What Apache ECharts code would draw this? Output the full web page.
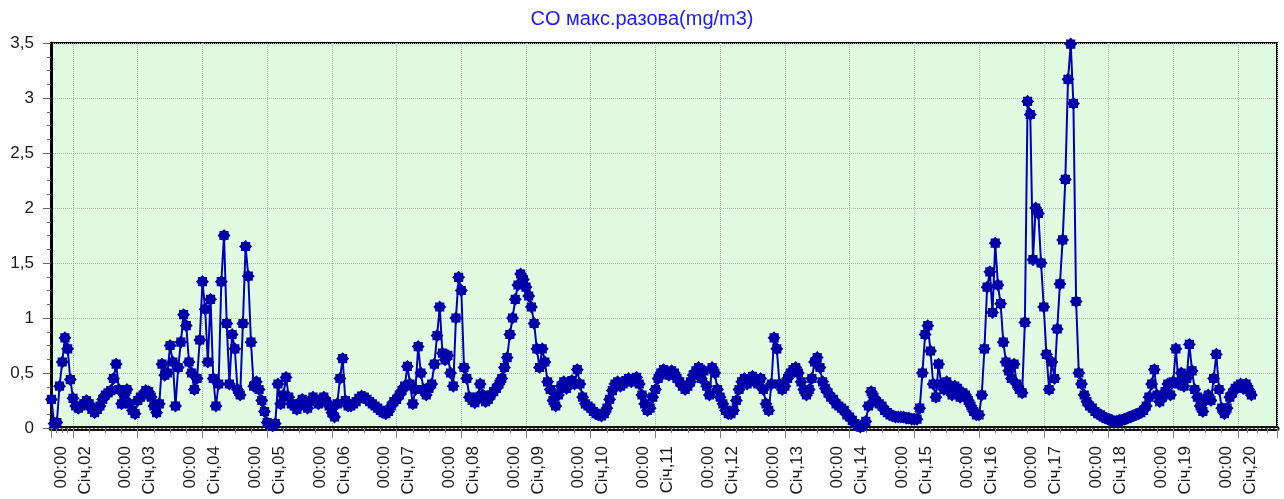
<!DOCTYPE html>
<html>
<head>
<meta charset="utf-8">
<title>CO макс.разова</title>
<script src="https://cdn.jsdelivr.net/npm/echarts@6/dist/echarts.min.js"></script>
<style>
  html, body { margin: 0; padding: 0; background: #fff; }
  #chart { width: 1284px; height: 499px; }
</style>
</head>
<body>
<div id="chart"></div>
<script>
const chartTitle = 'CO макс.разова(mg/m3)'
const monthLabel = 'Січ'
const timeLabel = '00:00'
const year = 2024

// hourly values, mg/m3 (jan01 starts at 16:00, all others at 00:00)
const jan01 = [0.26, 0.04, 0.05, 0.38, 0.6, 0.82, 0.72, 0.44]
const jan02 = [0.27, 0.2, 0.18, 0.2, 0.22, 0.25, 0.22, 0.17, 0.14, 0.17, 0.2, 0.26, 0.3, 0.32, 0.34, 0.45, 0.58, 0.35, 0.22, 0.3, 0.35, 0.22, 0.16, 0.13]
const jan03 = [0.25, 0.28, 0.3, 0.34, 0.33, 0.28, 0.2, 0.14, 0.22, 0.58, 0.48, 0.5, 0.75, 0.6, 0.2, 0.55, 0.78, 1.03, 0.93, 0.6, 0.5, 0.35, 0.45, 0.8]
const jan04 = [1.33, 1.08, 0.6, 1.17, 0.45, 0.2, 0.4, 1.33, 1.75, 0.95, 0.4, 0.85, 0.72, 0.35, 0.3, 0.95, 1.65, 1.38, 0.78, 0.38, 0.42, 0.35, 0.25, 0.15]
const jan05 = [0.05, 0.03, 0.02, 0.04, 0.4, 0.22, 0.3, 0.46, 0.28, 0.22, 0.2, 0.17, 0.22, 0.26, 0.22, 0.18, 0.24, 0.28, 0.26, 0.22, 0.26, 0.28, 0.24, 0.2]
const jan06 = [0.14, 0.1, 0.22, 0.45, 0.63, 0.25, 0.2, 0.2, 0.22, 0.24, 0.27, 0.29, 0.28, 0.26, 0.24, 0.22, 0.2, 0.18, 0.16, 0.14, 0.13, 0.15, 0.2, 0.24]
const jan07 = [0.26, 0.3, 0.34, 0.38, 0.56, 0.4, 0.22, 0.35, 0.74, 0.5, 0.35, 0.3, 0.36, 0.4, 0.58, 0.84, 1.1, 0.68, 0.62, 0.66, 0.5, 0.38, 1.0, 1.37]
const jan08 = [1.25, 0.55, 0.45, 0.28, 0.25, 0.23, 0.28, 0.4, 0.3, 0.24, 0.26, 0.3, 0.33, 0.36, 0.4, 0.45, 0.55, 0.64, 0.85, 1.0, 1.17, 1.3, 1.4, 1.35]
const jan09 = [1.28, 1.2, 1.1, 0.95, 0.72, 0.55, 0.72, 0.6, 0.42, 0.35, 0.25, 0.2, 0.3, 0.38, 0.42, 0.36, 0.4, 0.43, 0.4, 0.53, 0.4, 0.28, 0.22, 0.2]
const jan10 = [0.18, 0.15, 0.13, 0.12, 0.11, 0.13, 0.18, 0.26, 0.34, 0.4, 0.42, 0.38, 0.4, 0.43, 0.45, 0.42, 0.44, 0.46, 0.4, 0.3, 0.22, 0.16, 0.18, 0.28]
const jan11 = [0.35, 0.45, 0.5, 0.53, 0.5, 0.48, 0.52, 0.5, 0.45, 0.42, 0.38, 0.35, 0.38, 0.42, 0.48, 0.52, 0.55, 0.45, 0.52, 0.38, 0.3, 0.55, 0.5, 0.35]
const jan12 = [0.28, 0.22, 0.16, 0.13, 0.13, 0.16, 0.25, 0.35, 0.42, 0.45, 0.4, 0.45, 0.47, 0.42, 0.4, 0.45, 0.35, 0.22, 0.16, 0.4, 0.82, 0.72, 0.4, 0.35]
const jan13 = [0.38, 0.45, 0.5, 0.53, 0.55, 0.5, 0.42, 0.35, 0.3, 0.35, 0.45, 0.6, 0.64, 0.55, 0.42, 0.36, 0.32, 0.28, 0.26, 0.22, 0.2, 0.18, 0.16, 0.12]
const jan14 = [0.1, 0.07, 0.04, 0.02, 0.01, 0.02, 0.06, 0.2, 0.33, 0.28, 0.24, 0.22, 0.2, 0.16, 0.14, 0.12, 0.11, 0.1, 0.1, 0.1, 0.1, 0.09, 0.09, 0.08]
const jan15 = [0.08, 0.08, 0.18, 0.5, 0.85, 0.93, 0.7, 0.4, 0.28, 0.58, 0.4, 0.35, 0.42, 0.38, 0.3, 0.38, 0.36, 0.28, 0.32, 0.3, 0.25, 0.2, 0.15, 0.12]
const jan16 = [0.12, 0.3, 0.72, 1.28, 1.42, 1.05, 1.68, 1.3, 1.13, 0.78, 0.6, 0.52, 0.45, 0.58, 0.4, 0.35, 0.32, 0.96, 2.97, 2.85, 1.53, 2.0, 1.95, 1.5]
const jan17 = [1.1, 0.67, 0.35, 0.6, 0.45, 0.9, 1.31, 1.71, 2.26, 3.17, 3.49, 2.95, 1.15, 0.5, 0.4, 0.3, 0.24, 0.2, 0.18, 0.15, 0.13, 0.12, 0.1, 0.09]
const jan18 = [0.08, 0.07, 0.06, 0.06, 0.07, 0.07, 0.08, 0.09, 0.1, 0.11, 0.12, 0.13, 0.14, 0.16, 0.2, 0.28, 0.4, 0.53, 0.3, 0.24, 0.28, 0.33, 0.4, 0.3]
const jan19 = [0.42, 0.72, 0.4, 0.5, 0.38, 0.45, 0.76, 0.52, 0.35, 0.28, 0.2, 0.15, 0.25, 0.3, 0.25, 0.45, 0.67, 0.35, 0.18, 0.13, 0.18, 0.28, 0.32, 0.36]
const jan20 = [0.38, 0.4, 0.36, 0.4, 0.35, 0.3]

const days = [
  { day: 1, start: 16, values: jan01 },
  { day: 2, start: 0, values: jan02 },
  { day: 3, start: 0, values: jan03 },
  { day: 4, start: 0, values: jan04 },
  { day: 5, start: 0, values: jan05 },
  { day: 6, start: 0, values: jan06 },
  { day: 7, start: 0, values: jan07 },
  { day: 8, start: 0, values: jan08 },
  { day: 9, start: 0, values: jan09 },
  { day: 10, start: 0, values: jan10 },
  { day: 11, start: 0, values: jan11 },
  { day: 12, start: 0, values: jan12 },
  { day: 13, start: 0, values: jan13 },
  { day: 14, start: 0, values: jan14 },
  { day: 15, start: 0, values: jan15 },
  { day: 16, start: 0, values: jan16 },
  { day: 17, start: 0, values: jan17 },
  { day: 18, start: 0, values: jan18 },
  { day: 19, start: 0, values: jan19 },
  { day: 20, start: 0, values: jan20 }
]

const seriesData = []
days.forEach(d => {
  d.values.forEach((v, i) => {
    seriesData.push([new Date(year, 0, d.day, d.start + i).getTime(), v])
  })
})

const DAY = 24 * 3600 * 1000
const xMin = new Date(year, 0, 1, 15, 50).getTime()
const xMax = new Date(year, 0, 20, 14, 30).getTime()

// 8-point star marker
const starSymbol = 'path://M20 10L17.07 12.93L17.07 17.07L12.93 17.07L10 20L7.07 17.07L2.93 17.07L2.93 12.93L0 10L2.93 7.07L2.93 2.93L7.07 2.93L10 0L12.93 2.93L17.07 2.93L17.07 7.07Z'

const gridColor = '#a9bea9'
const labelFont = 'Liberation Sans, Arial, sans-serif'
const pad = n => (n < 10 ? '0' : '') + n

const chart = echarts.init(document.getElementById('chart'), null, { renderer: 'canvas' })

chart.setOption({
  animation: false,
  backgroundColor: '#fff',
  title: {
    text: chartTitle,
    left: 'center',
    top: 4,
    textStyle: { color: '#1a1aff', fontSize: 20, fontWeight: 'normal', fontFamily: labelFont }
  },
  grid: {
    left: 51, right: 7, top: 43, bottom: 71,
    show: true,
    backgroundColor: '#e0fbe0',
    borderColor: '#000',
    borderWidth: 2
  },
  xAxis: [{
    type: 'time',
    min: xMin,
    max: xMax,
    minInterval: DAY,
    maxInterval: DAY,
    axisLine: { show: true, lineStyle: { color: '#111', width: 5 } },
    axisTick: { show: true, length: 10, lineStyle: { color: '#808080' } },
    minorTick: { show: true, splitNumber: 4, length: 5, lineStyle: { color: '#808080' } },
    splitLine: { show: true, lineStyle: { color: gridColor, type: 'dotted', width: 1 } },
    axisLabel: {
      rotate: 90,
      margin: 18,
      fontSize: 17,
      lineHeight: 24,
      color: '#1a1a1a',
      fontFamily: labelFont,
      hideOverlap: false,
      formatter: value => {
        const d = new Date(value)
        if (d.getHours() !== 0 || d.getMinutes() !== 0) return ''
        return timeLabel + '\n' + monthLabel + ',' + pad(d.getDate())
      }
    }
  }, {
    // light dotted stripe inside the thick bottom edge
    type: 'time',
    min: xMin,
    max: xMax,
    position: 'bottom',
    axisLine: { show: true, lineStyle: { color: '#e8e8e8', width: 1, type: [2, 2] } },
    axisTick: { show: false },
    axisLabel: { show: false },
    splitLine: { show: false }
  }],
  yAxis: {
    type: 'value',
    min: 0,
    max: 3.5,
    interval: 0.5,
    axisLine: { show: true, lineStyle: { color: '#000', width: 3 } },
    axisTick: { show: true, length: 8, lineStyle: { color: '#666' } },
    minorTick: { show: true, splitNumber: 4, length: 4, lineStyle: { color: '#666' } },
    splitLine: { show: true, lineStyle: { color: gridColor, type: 'dotted', width: 1 } },
    axisLabel: {
      margin: 17,
      fontSize: 17,
      color: '#1a1a1a',
      fontFamily: labelFont,
      formatter: v => String(v).replace('.', ',')
    }
  },
  series: [{
    name: chartTitle,
    type: 'line',
    xAxisIndex: 0,
    data: seriesData,
    symbol: starSymbol,
    symbolSize: 13,
    showSymbol: true,
    lineStyle: { color: '#0000b8', width: 2 },
    itemStyle: { color: '#0000aa' },
    z: 3
  }]
})
</script>
</body>
</html>
